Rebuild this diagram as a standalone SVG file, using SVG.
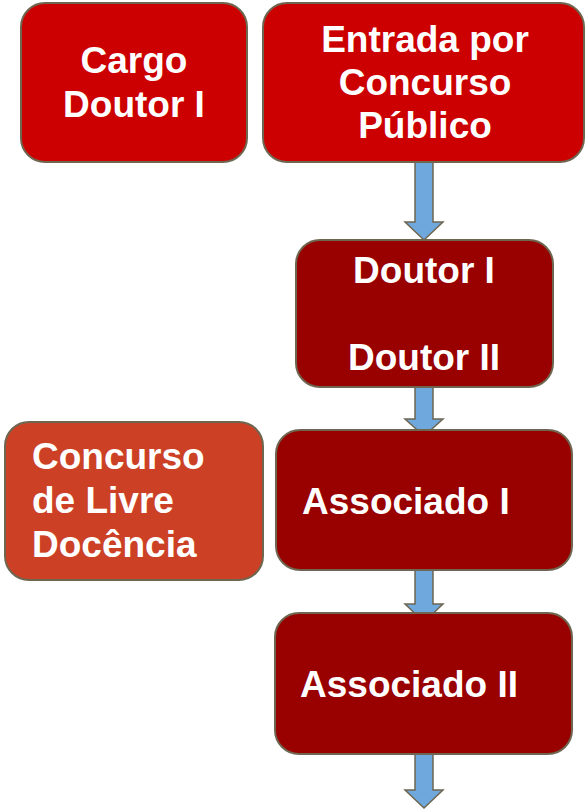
<svg xmlns="http://www.w3.org/2000/svg" width="587" height="811" viewBox="0 0 587 811">
<style>
.box{stroke:#6e6650;stroke-width:2}
.top{fill:#cc0000}
.mid{fill:#990000}
.side{fill:#cc4125}
.arrow{fill:#6fa8dc;stroke:#6e6650;stroke-width:1.5;stroke-linejoin:miter}
text{font-family:"Liberation Sans",Arial,sans-serif;font-weight:bold;font-size:37px;fill:#ffffff}
.c{text-anchor:middle}
</style>
<rect width="587" height="811" fill="#ffffff"/>
<g id="connectors">
<path class="arrow" d="M415,162 H433 V222 H443 L424,240 L405,222 H415 Z"/>
<path class="arrow" d="M415,387 H433 V419 H443 L424,436 L405,419 H415 Z"/>
<path class="arrow" d="M415,570 H433 V604 H443 L424,622 L405,604 H415 Z"/>
<path class="arrow" d="M415,754 H433 V790 H443 L424,808 L405,790 H415 Z"/>
</g>
<g id="cargo">
<rect class="box top" x="21" y="3" width="226" height="159" rx="24"/>
<text class="c" x="134" y="73">Cargo</text>
<text class="c" x="134" y="117">Doutor I</text>
</g>
<g id="entrada">
<rect class="box top" x="263" y="3" width="321" height="159" rx="24"/>
<text class="c" x="425" y="52">Entrada por</text>
<text class="c" x="425" y="95">Concurso</text>
<text class="c" x="425" y="138">Público</text>
</g>
<g id="doutor">
<rect class="box mid" x="296" y="240" width="257" height="147" rx="24"/>
<text class="c" x="424" y="283">Doutor I</text>
<text class="c" x="424" y="370">Doutor II</text>
</g>
<g id="livre-docencia">
<rect class="box side" x="5" y="422" width="258" height="158" rx="24"/>
<text x="32" y="469">Concurso</text>
<text x="32" y="513">de Livre</text>
<text x="32" y="557">Docência</text>
</g>
<g id="associado1">
<rect class="box mid" x="276" y="430" width="296" height="140" rx="24"/>
<text x="302" y="514">Associado I</text>
</g>
<g id="associado2">
<rect class="box mid" x="275" y="613" width="297" height="141" rx="24"/>
<text x="300" y="697">Associado II</text>
</g>
</svg>
